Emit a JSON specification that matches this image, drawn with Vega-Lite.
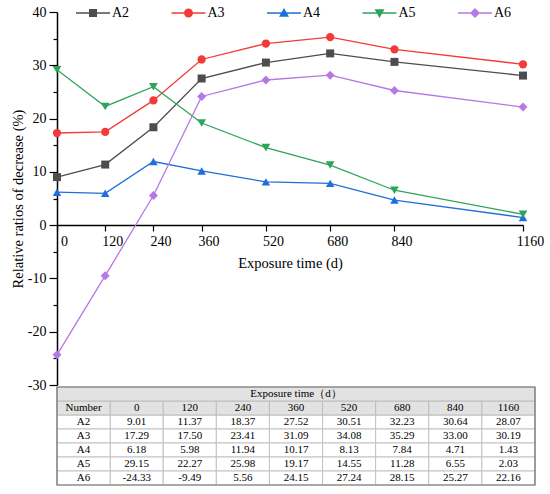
{
  "$schema": "https://vega.github.io/schema/vega-lite/v6.json",
  "padding": {"left": 10, "top": 5, "right": 5, "bottom": 5},
  "config": {
    "font": "Liberation Serif",
    "view": {"stroke": null},
    "text": {"font": "Liberation Serif", "fontSize": 11, "color": "black", "baseline": "middle"},
    "axis": {
      "domainColor": "black",
      "domainWidth": 1.5,
      "tickColor": "black",
      "tickWidth": 1.2,
      "labelColor": "black",
      "titleColor": "black",
      "labelFont": "Liberation Serif",
      "titleFont": "Liberation Serif",
      "labelFontSize": 14,
      "titleFontSize": 14.5,
      "titleFontWeight": "normal",
      "grid": false
    }
  },
  "data": {
    "values": [
      {"series": "A2", "time": 0, "ratio": 9.01},
      {"series": "A2", "time": 120, "ratio": 11.37},
      {"series": "A2", "time": 240, "ratio": 18.37},
      {"series": "A2", "time": 360, "ratio": 27.52},
      {"series": "A2", "time": 520, "ratio": 30.51},
      {"series": "A2", "time": 680, "ratio": 32.23},
      {"series": "A2", "time": 840, "ratio": 30.64},
      {"series": "A2", "time": 1160, "ratio": 28.07},
      {"series": "A3", "time": 0, "ratio": 17.29},
      {"series": "A3", "time": 120, "ratio": 17.50},
      {"series": "A3", "time": 240, "ratio": 23.41},
      {"series": "A3", "time": 360, "ratio": 31.09},
      {"series": "A3", "time": 520, "ratio": 34.08},
      {"series": "A3", "time": 680, "ratio": 35.29},
      {"series": "A3", "time": 840, "ratio": 33.00},
      {"series": "A3", "time": 1160, "ratio": 30.19},
      {"series": "A4", "time": 0, "ratio": 6.18},
      {"series": "A4", "time": 120, "ratio": 5.98},
      {"series": "A4", "time": 240, "ratio": 11.94},
      {"series": "A4", "time": 360, "ratio": 10.17},
      {"series": "A4", "time": 520, "ratio": 8.13},
      {"series": "A4", "time": 680, "ratio": 7.84},
      {"series": "A4", "time": 840, "ratio": 4.71},
      {"series": "A4", "time": 1160, "ratio": 1.43},
      {"series": "A5", "time": 0, "ratio": 29.15},
      {"series": "A5", "time": 120, "ratio": 22.27},
      {"series": "A5", "time": 240, "ratio": 25.98},
      {"series": "A5", "time": 360, "ratio": 19.17},
      {"series": "A5", "time": 520, "ratio": 14.55},
      {"series": "A5", "time": 680, "ratio": 11.28},
      {"series": "A5", "time": 840, "ratio": 6.55},
      {"series": "A5", "time": 1160, "ratio": 2.03},
      {"series": "A6", "time": 0, "ratio": -24.33},
      {"series": "A6", "time": 120, "ratio": -9.49},
      {"series": "A6", "time": 240, "ratio": 5.56},
      {"series": "A6", "time": 360, "ratio": 24.15},
      {"series": "A6", "time": 520, "ratio": 27.24},
      {"series": "A6", "time": 680, "ratio": 28.15},
      {"series": "A6", "time": 840, "ratio": 25.27},
      {"series": "A6", "time": 1160, "ratio": 22.16}
    ]
  },
  "spacing": 2,
  "bounds": "flush",
  "vconcat": [
    {
      "width": 466,
      "height": 373,
      "encoding": {
        "x": {
          "field": "time",
          "type": "quantitative",
          "scale": {"domain": [0, 1160], "nice": false},
          "axis": {
            "title": "Exposure time (d)",
            "values": [0, 120, 240, 360, 520, 680, 840, 1160],
            "format": "d",
            "offset": -160,
            "tickSize": 6,
            "labelOffset": 7,
            "labelPadding": 3,
            "labelFlush": false,
            "labelOverlap": false,
            "titlePadding": 8
          }
        },
        "y": {
          "field": "ratio",
          "type": "quantitative",
          "scale": {"domain": [-30, 40], "nice": false, "zero": false},
          "axis": {
            "title": "Relative ratios of decrease (%)",
            "values": [-30, -25, -20, -15, -10, -5, 0, 5, 10, 15, 20, 25, 30, 35, 40],
            "labelExpr": "datum.value % 10 === 0 ? toString(datum.value) : ''",
            "tickSize": {"condition": {"test": "datum.value % 10 === 0", "value": 8}, "value": 4},
            "labelPadding": 3,
            "labelOverlap": false,
            "titlePadding": 2
          }
        }
      },
      "layer": [
        {
          "mark": {"type": "line", "strokeWidth": 1.3},
          "encoding": {
            "color": {
              "field": "series",
              "type": "nominal",
              "scale": {"domain": ["A2", "A3", "A4", "A5", "A6"], "range": ["#4d4d4d", "#f23a3a", "#1e6fd9", "#2ea45a", "#b578e6"]},
              "legend": null
            }
          }
        },
        {
          "mark": {"type": "point", "filled": true, "opacity": 1},
          "encoding": {
            "color": {
              "field": "series",
              "type": "nominal",
              "scale": {"domain": ["A2", "A3", "A4", "A5", "A6"], "range": ["#4d4d4d", "#f23a3a", "#1e6fd9", "#2ea45a", "#b578e6"]},
              "legend": null
            },
            "shape": {
              "field": "series",
              "type": "nominal",
              "scale": {"domain": ["A2", "A3", "A4", "A5", "A6"], "range": ["square", "circle", "triangle-up", "triangle-down", "diamond"]},
              "legend": null
            },
            "size": {
              "field": "series",
              "type": "ordinal",
              "scale": {"domain": ["A2", "A3", "A4", "A5", "A6"], "range": [64, 81, 100, 100, 100]},
              "legend": null
            }
          }
        },
        {
          "transform": [{"filter": "false"}],
          "mark": {"type": "point", "filled": true, "opacity": 1},
          "encoding": {
            "color": {
              "field": "series",
              "type": "nominal",
              "title": null,
              "scale": {"domain": ["A2", "A3", "A4", "A5", "A6"], "range": ["#4d4d4d", "#f23a3a", "#1e6fd9", "#2ea45a", "#b578e6"]},
              "legend": {
                "orient": "none",
                "legendX": 29,
                "legendY": -6,
                "direction": "horizontal",
                "columns": 5,
                "columnPadding": 41.5,
                "padding": 0,
                "symbolSize": 100,
                "symbolStrokeWidth": 0,
                "labelOffset": 12,
                "labelFont": "Liberation Serif",
                "labelFontSize": 14,
                "labelColor": "black"
              }
            },
            "shape": {
              "field": "series",
              "type": "nominal",
              "title": null,
              "scale": {
                "domain": ["A2", "A3", "A4", "A5", "A6"],
                "range": [
                  "M-3.4,-0.13H3.4V0.13H-3.4Z M-0.8,-0.8H0.8V0.8H-0.8Z",
                  "M-3.4,-0.13H3.4V0.13H-3.4Z M-0.9,0A0.9,0.9 0 1,1 0.9,0A0.9,0.9 0 1,1 -0.9,0Z",
                  "M-3.4,-0.13H3.4V0.13H-3.4Z M0,-1L1,0.75L-1,0.75Z",
                  "M-3.4,-0.13H3.4V0.13H-3.4Z M-1,-0.75L1,-0.75L0,1Z",
                  "M-3.4,-0.13H3.4V0.13H-3.4Z M0,-1L1,0L0,1L-1,0Z"
                ]
              },
              "legend": {
                "orient": "none",
                "legendX": 29,
                "legendY": -6,
                "direction": "horizontal",
                "columns": 5,
                "columnPadding": 41.5,
                "padding": 0,
                "symbolSize": 100,
                "symbolStrokeWidth": 0,
                "labelOffset": 12,
                "labelFont": "Liberation Serif",
                "labelFontSize": 14,
                "labelColor": "black"
              }
            }
          }
        }
      ],
      "resolve": {"scale": {"color": "independent", "shape": "independent"}}
    },
    {
      "width": 478,
      "height": 98,
      "encoding": {
        "x": {
          "field": "time",
          "type": "ordinal",
          "scale": {"domain": ["Number", 0, 120, 240, 360, 520, 680, 840, 1160], "paddingInner": 0, "paddingOuter": 0},
          "axis": null
        },
        "y": {
          "field": "series",
          "type": "ordinal",
          "scale": {"domain": ["hdr", "Number", "A2", "A3", "A4", "A5", "A6"], "paddingInner": 0, "paddingOuter": 0},
          "axis": null
        }
      },
      "layer": [
        {
          "mark": {"type": "rect", "fill": "white", "stroke": "#c2c2c2", "strokeWidth": 1}
        },
        {
          "transform": [{"filter": "datum.time === 0"}],
          "mark": {"type": "rect", "fill": "white", "stroke": "#c2c2c2", "strokeWidth": 1},
          "encoding": {"x": {"datum": "Number", "type": "ordinal"}}
        },
        {
          "transform": [{"filter": "datum.series === 'A2'"}],
          "mark": {"type": "rect", "fill": "#e2e2e2", "stroke": "#bdbdbd", "strokeWidth": 1},
          "encoding": {"y": {"datum": "Number", "type": "ordinal"}}
        },
        {
          "transform": [{"filter": "datum.series === 'A2' && datum.time === 0"}],
          "mark": {"type": "rect", "fill": "#e2e2e2", "stroke": "#bdbdbd", "strokeWidth": 1},
          "encoding": {"x": {"datum": "Number", "type": "ordinal"}, "y": {"datum": "Number", "type": "ordinal"}}
        },
        {
          "transform": [{"filter": "datum.series === 'A2' && datum.time === 0"}],
          "mark": {"type": "rect", "fill": "#e2e2e2", "stroke": "#bdbdbd", "strokeWidth": 1},
          "encoding": {"x": null, "y": {"datum": "hdr", "type": "ordinal"}}
        },
        {
          "transform": [{"calculate": "replace(format(datum.ratio, '.2f'), '−', '-')", "as": "label"}],
          "mark": {"type": "text", "font": "Liberation Serif", "fontSize": 11, "fontWeight": "normal", "color": "black", "baseline": "middle"},
          "encoding": {"text": {"field": "label"}}
        },
        {
          "transform": [{"filter": "datum.time === 0"}],
          "mark": {"type": "text", "font": "Liberation Serif", "fontSize": 11, "fontWeight": "normal", "color": "black", "baseline": "middle"},
          "encoding": {"x": {"datum": "Number", "type": "ordinal"}, "text": {"field": "series"}}
        },
        {
          "transform": [{"filter": "datum.series === 'A2'"}],
          "mark": {"type": "text", "font": "Liberation Serif", "fontSize": 11, "fontWeight": "normal", "color": "black", "baseline": "middle"},
          "encoding": {"y": {"datum": "Number", "type": "ordinal"}, "text": {"field": "time"}}
        },
        {
          "transform": [{"filter": "datum.series === 'A2' && datum.time === 0"}],
          "mark": {"type": "text", "font": "Liberation Serif", "fontSize": 11, "fontWeight": "normal", "color": "black", "baseline": "middle"},
          "encoding": {"x": {"datum": "Number", "type": "ordinal"}, "y": {"datum": "Number", "type": "ordinal"}, "text": {"value": "Number"}}
        },
        {
          "transform": [{"filter": "datum.series === 'A2' && datum.time === 0"}],
          "mark": {"type": "text", "font": "Liberation Serif", "fontSize": 11, "fontWeight": "normal", "color": "black", "baseline": "middle"},
          "encoding": {"x": null, "y": {"datum": "hdr", "type": "ordinal"}, "text": {"value": "Exposure time（d）"}}
        },
        {
          "transform": [{"filter": "datum.series === 'A2' && datum.time === 0"}],
          "mark": {"type": "rect", "fill": null, "stroke": "#707070", "strokeWidth": 1.2},
          "encoding": {"x": null, "y": null}
        }
      ]
    }
  ]
}
